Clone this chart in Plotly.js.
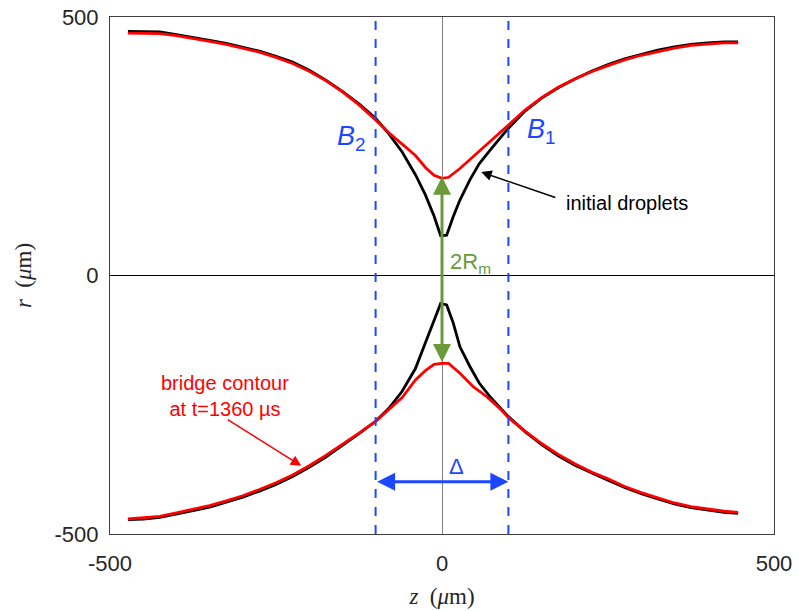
<!DOCTYPE html>
<html>
<head>
<meta charset="utf-8">
<script src="https://cdn.plot.ly/plotly-3.0.1.min.js"></script>
<style>
  body { margin: 0; background: #fff; }
  #chart { width: 799px; height: 611px; }
</style>
</head>
<body>
<div id="chart"></div>
<script>
// z positions (µm) for the initial droplet contours (black)
const zBlack = [-473, -450, -425, -400, -375, -350, -325, -300, -275, -250, -225, -200, -175, -150, -125,
  -100, -80, -60, -40, -25, -12, -2, 7, 17, 27, 42, 56, 74, 100,
  125, 150, 175, 200, 225, 250, 275, 300, 325, 350, 375, 400, 425, 446];
const rBlackTop = [472, 472, 471, 466, 461, 455, 449, 442, 434, 424, 413, 397, 378, 356, 332,
  304, 274, 239, 195, 156, 115, 77, 78, 114, 146, 185, 216, 245, 285,
  318, 343, 363, 380, 395, 408, 419, 428, 436, 442, 447, 450, 452, 452];
const rBlackBottom = [-472, -471, -468, -462, -455, -448, -439, -429, -417, -404, -389, -371, -351, -329, -306,
  -282, -257, -224, -180, -130, -88, -54, -57, -92, -138, -176, -208, -237, -273,
  -302, -327, -349, -367, -382, -396, -410, -422, -432, -442, -449, -454, -458, -460];

// z positions (µm) for the bridge contour (red)
const zRed = [-473, -450, -425, -400, -375, -350, -325, -300, -275, -250, -225, -200, -175, -150, -125,
  -100, -80, -60, -40, -25, -12, 0, 10, 27, 47, 67, 87, 100,
  125, 150, 175, 200, 225, 250, 275, 300, 325, 350, 375, 400, 425, 446];
const rRedTop = [469, 469, 468, 464, 459, 453, 447, 440, 432, 422, 410, 395, 377, 355, 330,
  301, 276, 254, 232, 209, 194, 188, 190, 207, 230, 252, 275, 291,
  320, 344, 364, 380, 394, 406, 417, 426, 433, 440, 445, 448, 450, 450];
const rRedBottom = [-471, -469, -466, -459, -452, -445, -436, -426, -414, -401, -386, -368, -348, -327, -305,
  -282, -259, -236, -202, -184, -172, -170, -170, -189, -215, -234, -257, -275,
  -301, -325, -346, -364, -380, -393, -408, -420, -430, -440, -447, -452, -456, -458];

// boundaries B1, B2 and the measured quantities
const zB2 = -100;
const zB1 = 100;
const rNeckTop = 191;
const rNeckBottom = -170;
const rDelta = -399;

const blue = '#1a47ff';
const green = '#6a9a3a';
const sans = 'Liberation Sans, Arial, sans-serif';
const tickFont = { family: sans, size: 22, color: '#262626' };
const serif = { family: 'Liberation Serif, DejaVu Serif, serif', size: 23, color: '#262626' };

const traces = [
  { x: zBlack, y: rBlackTop, mode: 'lines', line: { color: '#000', width: 2.8 }, hoverinfo: 'none' },
  { x: zBlack, y: rBlackBottom, mode: 'lines', line: { color: '#000', width: 2.8 }, hoverinfo: 'none' },
  { x: zRed, y: rRedTop, mode: 'lines', line: { color: '#ff0000', width: 2.8 }, hoverinfo: 'none' },
  { x: zRed, y: rRedBottom, mode: 'lines', line: { color: '#ff0000', width: 2.8 }, hoverinfo: 'none' }
];

// dashed vertical lines at the two boundaries
const shapes = [zB2, zB1].map(z => ({
  type: 'line', xref: 'x', yref: 'paper', x0: z, x1: z, y0: 0, y1: 1,
  line: { color: blue, width: 2, dash: 'dash' }
}));

const annotations = [
  { x: zB2 - 37, y: 266, xref: 'x', yref: 'y', text: '<i>B</i><sub>2</sub>', showarrow: false,
    font: { family: sans, size: 27, color: blue } },
  { x: zB1 + 50, y: 279, xref: 'x', yref: 'y', text: '<i>B</i><sub>1</sub>', showarrow: false,
    font: { family: sans, size: 27, color: blue } },
  // 2Rm double arrow
  { x: 0, y: rNeckTop, ax: 0, ay: rNeckBottom, xref: 'x', yref: 'y', axref: 'x', ayref: 'y',
    showarrow: true, arrowside: 'end+start', arrowhead: 2, startarrowhead: 2,
    arrowsize: 1.2, startarrowsize: 1.2, arrowwidth: 3, arrowcolor: green, text: '' },
  { x: 9, y: 24, xref: 'x', yref: 'y', xanchor: 'left', text: '2R<sub>m</sub>', showarrow: false,
    font: { family: sans, size: 22, color: green } },
  // Delta double arrow
  { x: zB1, y: rDelta, ax: zB2, ay: rDelta, xref: 'x', yref: 'y', axref: 'x', ayref: 'y',
    showarrow: true, arrowside: 'end+start', arrowhead: 2, startarrowhead: 2,
    arrowsize: 1.2, startarrowsize: 1.2, arrowwidth: 3, arrowcolor: blue, text: '' },
  { x: 22, y: -370, xref: 'x', yref: 'y', text: 'Δ', showarrow: false,
    font: { family: sans, size: 22, color: blue } },
  // initial droplets label
  { x: 59, y: 200, ax: 173, ay: 150, xref: 'x', yref: 'y', axref: 'x', ayref: 'y',
    showarrow: true, arrowhead: 2, arrowsize: 1.4, arrowwidth: 1.5, arrowcolor: '#000', text: '' },
  { x: 184, y: 140, xref: 'x', yref: 'y', xanchor: 'left', text: 'initial droplets', showarrow: false,
    font: { family: sans, size: 20, color: '#000' } },
  // bridge contour label
  { x: -212, y: -368, ax: -325, ay: -277, xref: 'x', yref: 'y', axref: 'x', ayref: 'y',
    showarrow: true, arrowhead: 2, arrowsize: 1.4, arrowwidth: 1.5, arrowcolor: '#ff0000', text: '' },
  { x: -327, y: -233, xref: 'x', yref: 'y', text: 'bridge contour<br>at t=1360 µs', showarrow: false,
    font: { family: sans, size: 20, color: '#ff0000' } }
];

const layout = {
  width: 799,
  height: 611,
  margin: { l: 110, r: 25, t: 17, b: 77 },
  paper_bgcolor: '#fff',
  plot_bgcolor: '#fff',
  showlegend: false,
  xaxis: {
    range: [-500, 500], tickvals: [-500, 0, 500], ticktext: ['-500', '0', '500'],
    showgrid: false, zeroline: true, zerolinecolor: '#808080', zerolinewidth: 1,
    showline: true, mirror: true, linecolor: '#404040', linewidth: 1, ticks: '',
    tickfont: tickFont, ticklabelstandoff: 10,
    title: { text: '<i>z</i>  (<i>μ</i>m)', font: serif, standoff: 12 }
  },
  yaxis: {
    range: [-500, 500], tickvals: [-500, 0, 500], ticktext: ['-500', '0', '500'],
    showgrid: false, zeroline: true, zerolinecolor: '#000', zerolinewidth: 1,
    showline: true, mirror: true, linecolor: '#404040', linewidth: 1, ticks: '',
    tickfont: tickFont, ticklabelstandoff: 6,
    title: { text: '<i>r</i>  (<i>μ</i>m)', font: serif, standoff: 16 }
  },
  shapes: shapes,
  annotations: annotations
};

Plotly.newPlot('chart', traces, layout, { displayModeBar: false, staticPlot: true });
</script>
</body>
</html>
